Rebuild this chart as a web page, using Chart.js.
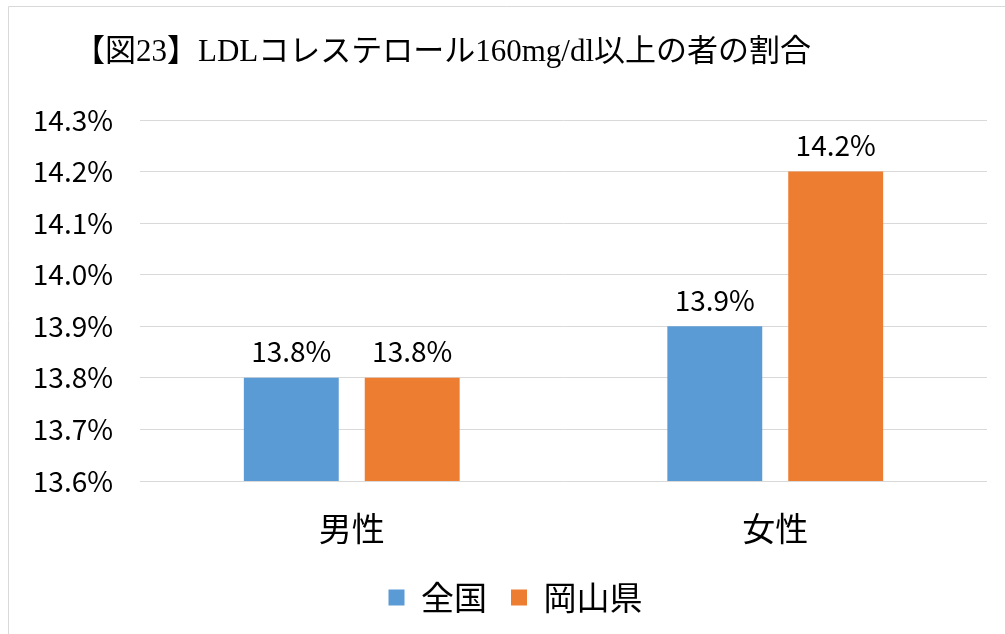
<!DOCTYPE html>
<html>
<head>
<meta charset="utf-8">
<script src="https://cdn.jsdelivr.net/npm/chart.js@4.4.1/dist/chart.umd.min.js"></script>
<style>
  html, body { margin: 0; padding: 0; background: #fff; }
  #wrap { width: 1005px; height: 634px; position: relative; }
</style>
</head>
<body>
<div id="wrap"><canvas id="myChart"></canvas></div>
<script>
const chartTitle = '【図23】LDLコレステロール160mg/dl以上の者の割合';
const categories = ['男性', '女性'];
const seriesNames = ['全国', '岡山県'];
const nationalValues = [13.8, 13.9];
const okayamaValues = [13.8, 14.2];
const yMin = 13.6, yMax = 14.3, yStep = 0.1;

const jpFont = "'Noto Sans CJK JP', 'Noto Sans', sans-serif";

// frame + title, drawn straight onto the canvas
const framePlugin = {
  id: 'frame',
  beforeDraw: (chart) => {
    const ctx = chart.ctx;
    ctx.save();
    ctx.fillStyle = '#ffffff';
    ctx.fillRect(0, 0, chart.width, chart.height);
    ctx.strokeStyle = '#d9d9d9';
    ctx.lineWidth = 1;
    ctx.beginPath();
    ctx.moveTo(8.5, chart.height);
    ctx.lineTo(8.5, 6.5);
    ctx.lineTo(chart.width, 6.5);
    ctx.stroke();
    ctx.fillStyle = '#000';
    ctx.font = "31px 'Liberation Serif', 'Noto Sans CJK JP', serif";
    ctx.textBaseline = 'middle';
    ctx.textAlign = 'left';
    ctx.fillText(chartTitle, 74, 53);
    ctx.restore();
  }
};

// legend sits a little right of centre in the original
const legendShift = {
  id: 'legendShift',
  afterLayout: (chart) => {
    chart.legend.left += 22;
    chart.legend.right += 22;
  }
};

// value labels above each bar
const valueLabels = {
  id: 'valueLabels',
  afterDatasetsDraw: (chart) => {
    const ctx = chart.ctx;
    ctx.save();
    ctx.fillStyle = '#000';
    ctx.font = '28px ' + jpFont;
    ctx.textAlign = 'center';
    ctx.textBaseline = 'bottom';
    chart.data.datasets.forEach((ds, i) => {
      chart.getDatasetMeta(i).data.forEach((bar, j) => {
        ctx.fillText(ds.data[j].toFixed(1) + '%', bar.x, bar.y - 12);
      });
    });
    ctx.restore();
  }
};

new Chart(document.getElementById('myChart'), {
  type: 'bar',
  data: {
    labels: categories,
    datasets: [
      { label: seriesNames[0], data: nationalValues, backgroundColor: '#5B9BD5' },
      { label: seriesNames[1], data: okayamaValues, backgroundColor: '#ED7D31' }
    ]
  },
  options: {
    responsive: true,
    maintainAspectRatio: false,
    animation: false,
    categoryPercentage: 0.571,
    barPercentage: 0.785,
    layout: { padding: { top: 120, right: 18, left: 0, bottom: 10 } },
    plugins: {
      title: { display: false },
      tooltip: { enabled: false },
      legend: {
        position: 'bottom',
        labels: {
          boxWidth: 16,
          boxHeight: 16,
          padding: 24,
          color: '#000',
          font: { family: jpFont, size: 33 }
        }
      }
    },
    scales: {
      x: {
        grid: { display: false, drawTicks: false },
        border: { display: false },
        ticks: { color: '#000', padding: 28, font: { family: jpFont, size: 33 } },
        afterFit: (scale) => { scale.height = 76; }
      },
      y: {
        min: yMin,
        max: yMax,
        grid: { color: '#d9d9d9', lineWidth: 1, drawTicks: false },
        border: { display: false },
        ticks: {
          stepSize: yStep,
          color: '#000',
          padding: 27,
          font: { family: jpFont, size: 28 },
          callback: (v) => v.toFixed(1) + '%'
        },
        afterFit: (scale) => { scale.width = 140; }
      }
    }
  },
  plugins: [framePlugin, legendShift, valueLabels]
});
</script>
</body>
</html>
